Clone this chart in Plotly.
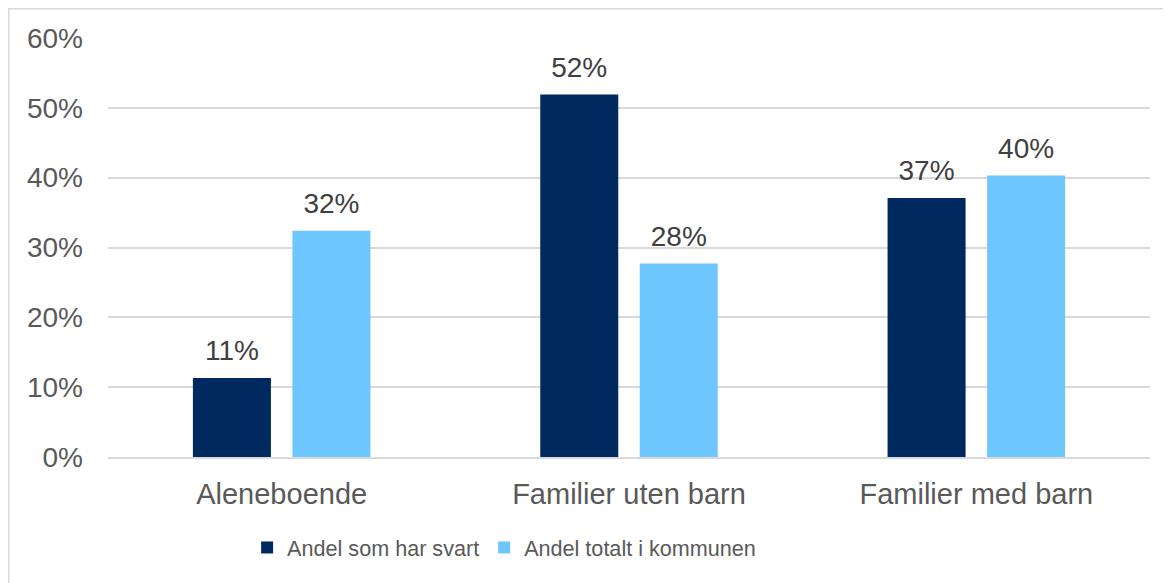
import plotly.graph_objects as go

categories = ["Aleneboende", "Familier uten barn", "Familier med barn"]
series_names = ["Andel som har svart", "Andel totalt i kommunen"]
svart = [0.113, 0.519, 0.371]
totalt = [0.324, 0.277, 0.403]
tick_vals = [0, 0.1, 0.2, 0.3, 0.4, 0.5, 0.6]
tick_text = ["0%", "10%", "20%", "30%", "40%", "50%", "60%"]

colors = ["#002960", "#6ec6ff"]
FONT = "Liberation Sans, Arial, sans-serif"

fig = go.Figure()
for name, vals, col in zip(series_names, [svart, totalt], colors):
    fig.add_trace(go.Bar(
        x=categories, y=vals, name=name,
        marker=dict(color=col, line=dict(width=0)),
        cliponaxis=False,
    ))
# value labels, grouped like the bars
for name, vals in zip(series_names, [svart, totalt]):
    fig.add_trace(go.Scatter(
        x=categories, y=vals, mode="markers+text", showlegend=False,
        marker=dict(size=16, opacity=0),
        text=[f"{round(v*100):d}%" for v in vals],
        textposition="top center",
        textfont=dict(family=FONT, size=28, color="#404040"),
        cliponaxis=False, hoverinfo="skip",
    ))

fig.update_layout(
    width=1171, height=583,
    margin=dict(l=100, r=29, t=30, b=134),
    paper_bgcolor="white", plot_bgcolor="white",
    barmode="group", bargap=0.427, bargroupgap=0.216,
    scattermode="group", scattergap=0.427,
    font=dict(family=FONT, color="#595959"),
    showlegend=True,
    legend=dict(orientation="h", x=0.1335, xanchor="left", y=-0.217, yanchor="middle",
                font=dict(family=FONT, size=21.6, color="#595959"),
                itemwidth=30, traceorder="normal", bgcolor="rgba(0,0,0,0)"),
)
fig.update_yaxes(range=[0, 0.6], tickvals=tick_vals, ticktext=tick_text,
                 showgrid=True, gridcolor="#d9d9d9", gridwidth=1.5,
                 zeroline=False, showline=False, automargin=False,
                 tickfont=dict(family=FONT, size=28, color="#595959"),
                 ticklabelstandoff=24)
fig.update_xaxes(showline=True, linecolor="#d9d9d9", linewidth=1.5, automargin=False,
                 tickfont=dict(family=FONT, size=29, color="#595959"),
                 ticks="", ticklabelstandoff=10)
# outer chart border (top and left visible)
fig.add_shape(type="rect", xref="paper", yref="paper",
              x0=-0.0955, x1=1.2, y0=-0.5, y1=1.0704,
              line=dict(color="#d9d9d9", width=2), layer="below")

fig.write_html("out.html")
